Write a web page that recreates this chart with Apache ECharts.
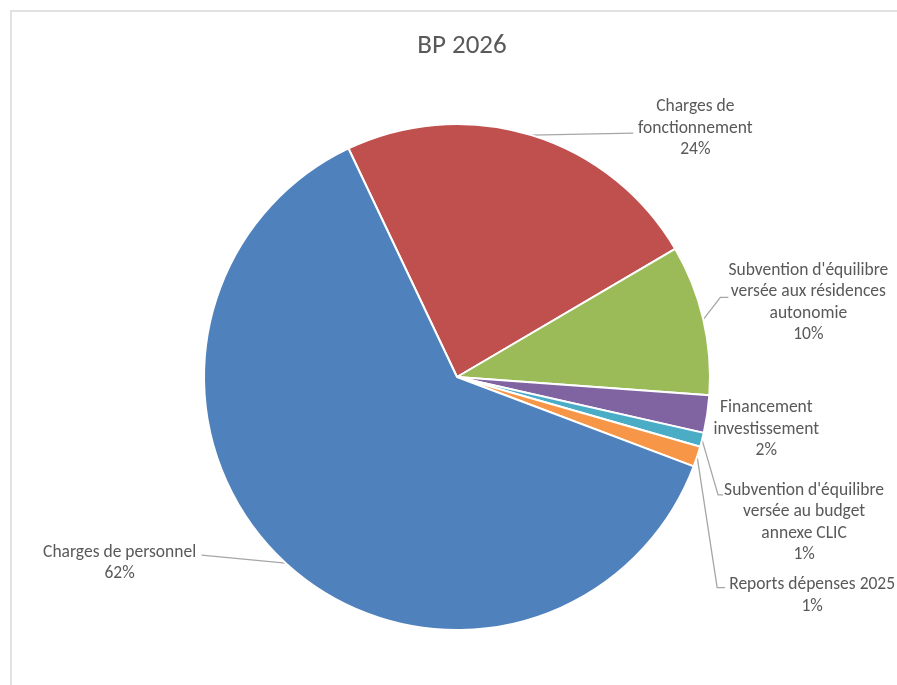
<!DOCTYPE html>
<html>
<head>
<meta charset="utf-8">
<script src="https://cdn.jsdelivr.net/npm/echarts@6/dist/echarts.min.js"></script>
<style>
html,body{margin:0;padding:0;background:#fff;}
#chart{width:897px;height:685px;}
</style>
</head>
<body>
<div id="chart"></div>
<script>
const title = 'BP 2026';
const categories = [
  "Charges de\nfonctionnement",
  "Subvention d'équilibre\nversée aux résidences\nautonomie",
  "Financement\ninvestissement",
  "Subvention d'équilibre\nversée au budget\nannexe CLIC",
  "Reports dépenses 2025",
  "Charges de personnel"
];
const values = [23.6, 9.6, 2.4, 0.9, 1.3, 62.2];
const colors = ['#C0504D', '#9BBB59', '#8064A2', '#4BACC6', '#F79646', '#4F81BD'];

// label placement relative to the slice's arc point
const labelPlacement = [
  {dx: 164, dy: -7, line: [[102, -2], [102, -2]]},
  {dx: 105, dy: -17, line: [[17, -22], [25, -22]]},
  {dx: 59, dy: 15, line: null},
  {dx: 102, dy: 83, line: [[16, 55], [21, 55]]},
  {dx: 115, dy: 139, line: [[20, 131], [28, 131]]},
  {dx: -166, dy: 0, line: [[-84, -8], [-84, -8]]}
];

const chart = echarts.init(document.getElementById('chart'));
const FONT = 'Carlito, Calibri, Lato, "Open Sans", sans-serif';
chart.setOption({
  backgroundColor: '#fff',
  animation: false,
  title: {
    text: title,
    left: 457,
    textAlign: 'center',
    top: 28,
    textStyle: {fontSize: 27, fontWeight: 'normal', color: '#595959', fontFamily: FONT}
  },
  graphic: [{
    type: 'rect',
    shape: {x: 11, y: 11, width: 900, height: 700},
    style: {fill: 'none', stroke: '#d9d9d9', lineWidth: 1.5},
    silent: true,
    z: -1
  }],
  series: [{
    type: 'pie',
    center: [457, 377],
    radius: [0, 253],
    startAngle: 115.4,
    clockwise: true,
    avoidLabelOverlap: false,
    data: categories.map((c, i) => ({name: c, value: values[i], itemStyle: {color: colors[i]}})),
    itemStyle: {borderColor: '#fff', borderWidth: 2},
    label: {
      show: true,
      position: 'outside',
      formatter: p => p.name + '\n' + Math.round(p.percent) + '%',
      fontSize: 17.5,
      lineHeight: 21.5,
      color: '#595959',
      fontFamily: FONT,
      align: 'center'
    },
    labelLine: {
      show: true,
      length: 10,
      length2: 10,
      smooth: false,
      lineStyle: {color: '#a6a6a6', width: 1.3}
    },
    labelLayout: function (params) {
      const pl = labelPlacement[params.dataIndex];
      const p0 = params.labelLinePoints ? params.labelLinePoints[0] : [0, 0];
      const res = {
        x: p0[0] + pl.dx,
        y: p0[1] + pl.dy,
        align: 'center',
        verticalAlign: 'middle'
      };
      if (pl.line) {
        res.labelLinePoints = [p0, [p0[0] + pl.line[0][0], p0[1] + pl.line[0][1]], [p0[0] + pl.line[1][0], p0[1] + pl.line[1][1]]];
      } else {
        res.labelLinePoints = [p0, p0, p0];
      }
      return res;
    }
  }]
});
</script>
</body>
</html>
